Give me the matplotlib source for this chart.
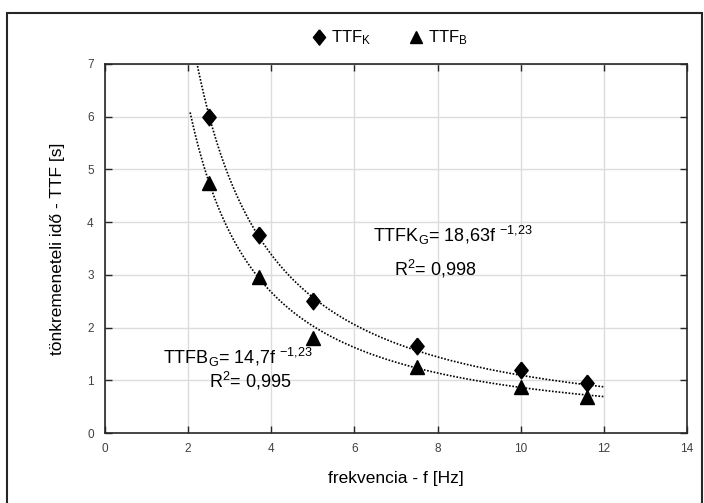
import numpy as np
import matplotlib
matplotlib.use("Agg")
import matplotlib.pyplot as plt
from matplotlib.lines import Line2D
from matplotlib.patches import Rectangle

plt.rcParams['font.family'] = ['Liberation Sans', 'DejaVu Sans']
plt.rcParams['mathtext.fontset'] = 'custom'
plt.rcParams['mathtext.rm'] = 'Liberation Sans'
plt.rcParams['mathtext.it'] = 'Liberation Sans'

# measured values
freq = [2.5, 3.7, 5.0, 7.5, 10.0, 11.6]
ttf_k = [6.0, 3.75, 2.5, 1.65, 1.2, 0.95]
ttf_b = [4.75, 2.95, 1.8, 1.25, 0.88, 0.68]

# power-law trendlines from the chart: TTF = a * f^b
fit_k = (18.63, -1.23)
fit_b = (14.7, -1.23)
fit_range = (2.05, 12.0)

diamond = [(0, 1), (0.8, 0), (0, -1), (-0.8, 0), (0, 1)]

fig = plt.figure(figsize=(7.04, 5.03), dpi=100)
ax = fig.add_axes([0.149, 0.139, 0.827, 0.734])

# trendlines
f = np.linspace(fit_range[0], fit_range[1], 300)
ax.plot(f, fit_k[0] * f ** fit_k[1], color='black', linestyle=(0, (1, 1)), lw=1.2)
ax.plot(f, fit_b[0] * f ** fit_b[1], color='black', linestyle=(0, (1, 1)), lw=1.2)

# data points
ax.plot(freq, ttf_k, linestyle='none', marker=diamond, color='black', markersize=12)
ax.plot(freq, ttf_b, linestyle='none', marker='^', color='black', markersize=10)

ax.set_xlim(0, 14)
ax.set_ylim(0, 7)
ax.set_xticks(range(0, 15, 2))
ax.set_yticks(range(0, 8))
ax.grid(True, color='#dcdcdc', lw=1)
ax.set_axisbelow(True)
for s in ax.spines.values():
    s.set_color('#262626')
    s.set_linewidth(1.2)
ax.tick_params(direction='in', top=True, right=True, length=5, width=1,
               color='#262626', labelsize=8.5, labelcolor='#404040')
ax.tick_params(axis='x', pad=7)
ax.tick_params(axis='y', pad=8)

ax.set_xlabel('frekvencia - f [Hz]', fontsize=12.5, labelpad=12)
ax.set_ylabel('tönkremeneteli idő - TTF [s]', fontsize=12.5, labelpad=16)

# trendline equations
eq_font = 13
ax.text(6.45, 3.75, r'TTFK$_{\mathregular{G}}$= 18,63f $^{\mathregular{-1{,}23}}$',
        fontsize=eq_font, va='center', ha='left')
ax.text(7.95, 3.12, r'R$^{\mathregular{2}}$= 0,998', fontsize=eq_font, va='center', ha='center')
ax.text(1.4, 1.44, r'TTFB$_{\mathregular{G}}$= 14,7f $^{\mathregular{-1{,}23}}$',
        fontsize=eq_font, va='center', ha='left')
ax.text(3.5, 0.98, r'R$^{\mathregular{2}}$= 0,995', fontsize=eq_font, va='center', ha='center')

# legend on top
handles = [Line2D([], [], linestyle='none', marker=diamond, color='black', markersize=11),
           Line2D([], [], linestyle='none', marker='^', color='black', markersize=9)]
fig.legend(handles, [r'TTF$_{\mathregular{K}}$', r'TTF$_{\mathregular{B}}$'],
           loc='center', bbox_to_anchor=(0.553, 0.925), ncol=2, frameon=False,
           fontsize=12, handletextpad=0.2, columnspacing=2.2, handlelength=1.0)

# outer frame
fig.patches.append(Rectangle((7 / 704, -0.05), 695 / 704, 1.05 - 13 / 503,
                             transform=fig.transFigure, fill=False,
                             edgecolor='#262626', lw=1.5))

fig.savefig('out.png', dpi=100)
